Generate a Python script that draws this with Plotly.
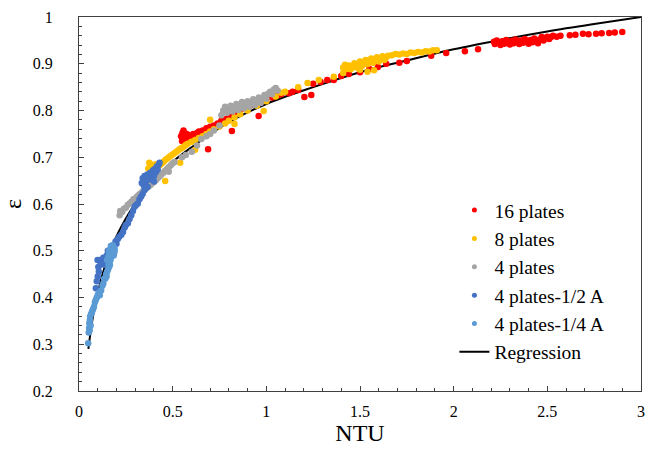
import plotly.graph_objects as go

# Effectiveness (epsilon) versus NTU for each plate configuration
red_ntu = [0.545, 0.55, 0.552, 0.555, 0.558, 0.56, 0.565, 0.57, 0.575, 0.58, 0.59, 0.6, 0.61, 0.62,
           0.63, 0.64, 0.65, 0.66, 0.68, 0.7, 0.72, 0.74, 0.76, 0.78, 0.8, 0.82, 0.84, 0.86, 0.88,
           0.9, 0.92, 0.95, 0.98, 1.0, 1.03, 1.06, 1.08, 1.12, 1.14, 1.17, 1.25, 1.29, 1.325, 1.36,
           1.40, 1.44, 1.50, 1.55, 1.595, 1.64, 1.71, 1.75, 1.88, 1.96, 2.06, 2.13,
           0.689, 0.816, 0.959, 1.203, 1.24,
           2.215, 2.22, 2.23, 2.24, 2.25, 2.26, 2.27, 2.28, 2.29, 2.3, 2.31, 2.32, 2.33, 2.34, 2.35,
           2.36, 2.37, 2.38, 2.39, 2.4, 2.41, 2.42, 2.43, 2.44, 2.45, 2.46, 2.47, 2.48, 2.49, 2.5,
           2.51, 2.52, 2.53, 2.55, 2.57,
           2.62, 2.65, 2.69, 2.72, 2.76, 2.79, 2.83, 2.86, 2.9]
red_eps = [0.745, 0.735, 0.752, 0.742, 0.757, 0.738, 0.748, 0.744, 0.75, 0.741, 0.747, 0.745, 0.75, 0.748,
           0.752, 0.755, 0.753, 0.757, 0.762, 0.765, 0.768, 0.772, 0.778, 0.782, 0.786, 0.79, 0.795, 0.8, 0.805,
           0.81, 0.812, 0.816, 0.82, 0.824, 0.828, 0.832, 0.835, 0.837, 0.84, 0.844, 0.857, 0.861, 0.865, 0.865,
           0.874, 0.878, 0.882, 0.889, 0.893, 0.9, 0.902, 0.906, 0.917, 0.923, 0.927, 0.931,
           0.717, 0.756, 0.788, 0.829, 0.833,
           0.947, 0.942, 0.95, 0.945, 0.94, 0.948, 0.943, 0.951, 0.946, 0.941, 0.949, 0.944, 0.952, 0.947, 0.942,
           0.95, 0.945, 0.953, 0.948, 0.943, 0.951, 0.946, 0.954, 0.949, 0.944, 0.952, 0.957, 0.95, 0.955, 0.958,
           0.953, 0.957, 0.96, 0.958, 0.96,
           0.961, 0.962, 0.964, 0.963, 0.964, 0.965, 0.966, 0.967, 0.968]

yellow_ntu = [0.37, 0.375, 0.38, 0.39, 0.41, 0.41, 0.42, 0.43, 0.44, 0.45, 0.46, 0.47, 0.48, 0.49, 0.5,
              0.51, 0.52, 0.53, 0.54, 0.55, 0.56, 0.57, 0.58, 0.6, 0.62, 0.64, 0.66, 0.68, 0.7, 0.72,
              0.75, 0.78, 0.8, 0.83, 0.86, 0.9, 0.95, 1.0, 1.05, 1.08, 1.1,
              0.46, 0.54, 0.62, 0.70, 0.83, 0.986, 1.17, 1.22, 1.28, 1.36, 1.41,
              1.41, 1.42, 1.43, 1.44, 1.45, 1.46, 1.47, 1.48, 1.49, 1.5, 1.51, 1.52, 1.53, 1.54, 1.55,
              1.56, 1.57, 1.58, 1.59, 1.6, 1.61, 1.62, 1.63, 1.64, 1.65, 1.54, 1.575, 1.5,
              1.67, 1.69, 1.71, 1.73, 1.75, 1.77, 1.79, 1.81, 1.83, 1.85, 1.87, 1.89, 1.91]
yellow_eps = [0.676, 0.688, 0.682, 0.684, 0.665, 0.685, 0.68, 0.683, 0.686, 0.69, 0.694, 0.697, 0.7, 0.703, 0.706,
              0.709, 0.712, 0.715, 0.718, 0.72, 0.723, 0.726, 0.729, 0.733, 0.737, 0.741, 0.745, 0.75, 0.755, 0.76,
              0.766, 0.772, 0.778, 0.785, 0.792, 0.8, 0.81, 0.82, 0.83, 0.838, 0.84,
              0.649, 0.688, 0.716, 0.78, 0.771, 0.799, 0.85, 0.859, 0.865, 0.872, 0.88,
              0.892, 0.898, 0.889, 0.896, 0.888, 0.895, 0.901, 0.892, 0.899, 0.905, 0.895, 0.902, 0.908, 0.899, 0.905,
              0.911, 0.902, 0.908, 0.914, 0.905, 0.911, 0.916, 0.908, 0.914, 0.917, 0.883, 0.886, 0.887,
              0.918, 0.921, 0.92, 0.922, 0.921, 0.924, 0.923, 0.925, 0.924, 0.927, 0.926, 0.929, 0.929]

gray_ntu = [0.217, 0.22, 0.23, 0.24, 0.25, 0.26, 0.27, 0.28, 0.29, 0.3, 0.31, 0.32, 0.33, 0.34, 0.35,
            0.36, 0.37, 0.38, 0.39, 0.4, 0.41, 0.42, 0.43, 0.44, 0.45, 0.46, 0.47, 0.48, 0.49, 0.5, 0.51,
            0.479, 0.55, 0.57, 0.602, 0.63, 0.653, 0.68, 0.7, 0.72, 0.75,
            0.76, 0.77, 0.78, 0.79, 0.8, 0.81, 0.82, 0.83, 0.84, 0.85, 0.86, 0.87, 0.88, 0.89, 0.9,
            0.91, 0.92, 0.93, 0.94, 0.95, 0.96, 0.97, 0.98, 0.99, 1.0, 1.01, 1.02, 1.03, 1.04, 1.05, 1.06]
gray_eps = [0.576, 0.585, 0.583, 0.59, 0.592, 0.598, 0.601, 0.605, 0.61, 0.612, 0.616, 0.62, 0.623, 0.627, 0.63,
            0.634, 0.637, 0.64, 0.644, 0.647, 0.651, 0.655, 0.659, 0.663, 0.667, 0.671, 0.675, 0.679, 0.683, 0.687, 0.69,
            0.669, 0.70, 0.705, 0.712, 0.725, 0.739, 0.745, 0.75, 0.757, 0.768,
            0.79, 0.8, 0.808, 0.795, 0.803, 0.81, 0.798, 0.806, 0.814, 0.801, 0.81, 0.818, 0.805, 0.813, 0.82,
            0.808, 0.816, 0.824, 0.812, 0.82, 0.828, 0.816, 0.826, 0.833, 0.825, 0.836, 0.84, 0.835, 0.845, 0.848, 0.843]

blue_ntu = [0.09, 0.095, 0.1, 0.099, 0.103, 0.106, 0.111, 0.115, 0.12, 0.125, 0.13, 0.138, 0.142, 0.148,
            0.154, 0.16, 0.175, 0.185, 0.195, 0.2, 0.207, 0.215, 0.226, 0.235, 0.244, 0.25, 0.261, 0.27,
            0.279, 0.288, 0.297, 0.305, 0.314, 0.323, 0.332, 0.34, 0.35, 0.358, 0.366,
            0.335, 0.34, 0.345, 0.35, 0.355, 0.36, 0.365, 0.37, 0.375, 0.38, 0.385, 0.39, 0.395, 0.4,
            0.405, 0.41, 0.415, 0.42, 0.425, 0.43, 0.4, 0.345]
blue_eps = [0.42, 0.435, 0.445, 0.48, 0.465, 0.455, 0.48, 0.47, 0.474, 0.48, 0.485, 0.47, 0.485, 0.49,
            0.5, 0.5, 0.505, 0.512, 0.52, 0.515, 0.525, 0.53, 0.534, 0.54, 0.55, 0.555, 0.559, 0.568,
            0.576, 0.585, 0.594, 0.598, 0.601, 0.61, 0.616, 0.622, 0.63, 0.634, 0.637,
            0.645, 0.655, 0.65, 0.66, 0.648, 0.656, 0.663, 0.652, 0.66, 0.667, 0.655, 0.663, 0.672, 0.66,
            0.675, 0.668, 0.68, 0.674, 0.684, 0.688, 0.648, 0.64]

lblue_ntu = [0.049, 0.052, 0.054, 0.055, 0.057, 0.058, 0.06, 0.062, 0.065, 0.07, 0.075, 0.08, 0.085, 0.09,
             0.095, 0.1, 0.105, 0.111, 0.118, 0.125, 0.13, 0.134, 0.14, 0.145, 0.147, 0.15, 0.155, 0.158,
             0.161, 0.165, 0.168, 0.17, 0.173, 0.175, 0.178, 0.18, 0.183, 0.185, 0.188, 0.19,
             0.15, 0.155, 0.16, 0.165, 0.17, 0.175, 0.18, 0.185, 0.19, 0.16, 0.17, 0.18]
lblue_eps = [0.302, 0.325, 0.335, 0.345, 0.33, 0.352, 0.36, 0.34, 0.365, 0.37, 0.375, 0.38, 0.39, 0.395,
             0.4, 0.405, 0.41, 0.405, 0.415, 0.425, 0.43, 0.44, 0.44, 0.45, 0.445, 0.455, 0.46, 0.47,
             0.466, 0.47, 0.48, 0.485, 0.49, 0.495, 0.5, 0.505, 0.5, 0.49, 0.495, 0.505,
             0.48, 0.485, 0.49, 0.495, 0.505, 0.51, 0.51, 0.505, 0.5, 0.5, 0.51, 0.512]

# Regression curve through the combined data
reg_ntu = [0.05, 0.07, 0.1, 0.15, 0.2, 0.3, 0.4, 0.5, 0.6, 0.8, 1.0, 1.25, 1.5, 1.75, 2.0, 2.25, 2.5, 2.75, 3.0]
reg_eps = [0.29, 0.348, 0.41, 0.481, 0.531, 0.601, 0.651, 0.69, 0.721, 0.775, 0.814, 0.85, 0.882, 0.907,
           0.931, 0.951, 0.969, 0.985, 1.0]

series = [
    ("16 plates", red_ntu, red_eps, "#FF0000"),
    ("8 plates", yellow_ntu, yellow_eps, "#FFC000"),
    ("4 plates", gray_ntu, gray_eps, "#A5A5A5"),
    ("4 plates-1/2 A", blue_ntu, blue_eps, "#4472C4"),
    ("4 plates-1/4 A", lblue_ntu, lblue_eps, "#5B9BD5"),
]

FONT = '"Liberation Serif", "Times New Roman", Times, serif'

fig = go.Figure()
fig.add_trace(go.Scatter(x=reg_ntu, y=reg_eps, mode="lines", name="Regression",
                         line=dict(color="black", width=2, shape="spline"), legendrank=2000))
for i, (name, xs, ys, color) in enumerate(series):
    # data points (legend entry drawn separately with a smaller symbol)
    fig.add_trace(go.Scatter(x=xs, y=ys, mode="markers", name=name, legendgroup=name,
                             showlegend=False,
                             marker=dict(color=color, size=6.5, line=dict(width=0))))
    fig.add_trace(go.Scatter(x=[None], y=[None], mode="markers", name=name, legendgroup=name,
                             legendrank=100 + i,
                             marker=dict(color=color, size=5, line=dict(width=0))))

axis_common = dict(
    showgrid=False, zeroline=False, showline=True, linecolor="#404040", linewidth=1.3,
    mirror=True, ticks="inside", tickcolor="#404040", tickwidth=1.2, ticklen=5,
    tickfont=dict(family=FONT, size=16, color="black"),
)
fig.update_xaxes(range=[0, 3], dtick=0.5, tick0=0, ticklabelstandoff=6,
                 minor=dict(dtick=0.1, ticks="inside", ticklen=3, tickcolor="#404040"),
                 title=dict(text="NTU", font=dict(family=FONT, size=24, color="black"), standoff=2),
                 **axis_common)
fig.update_yaxes(range=[0.2, 1], dtick=0.1, tick0=0.2, ticklabelstandoff=22,
                 minor=dict(dtick=0.02, ticks="inside", ticklen=3, tickcolor="#404040"),
                 title=dict(text="ε", font=dict(family=FONT, size=24, color="black"), standoff=4),
                 **axis_common)
fig.update_layout(
    width=650, height=459,
    margin=dict(l=79, r=5, t=17, b=68),
    paper_bgcolor="white", plot_bgcolor="white",
    font=dict(family=FONT, color="black"),
    legend=dict(x=0.668, y=0.535, xanchor="left", yanchor="top",
                font=dict(family=FONT, size=19.5, color="black"),
                bgcolor="rgba(0,0,0,0)", tracegroupgap=0),
    showlegend=True,
)
fig.write_html("out.html")
